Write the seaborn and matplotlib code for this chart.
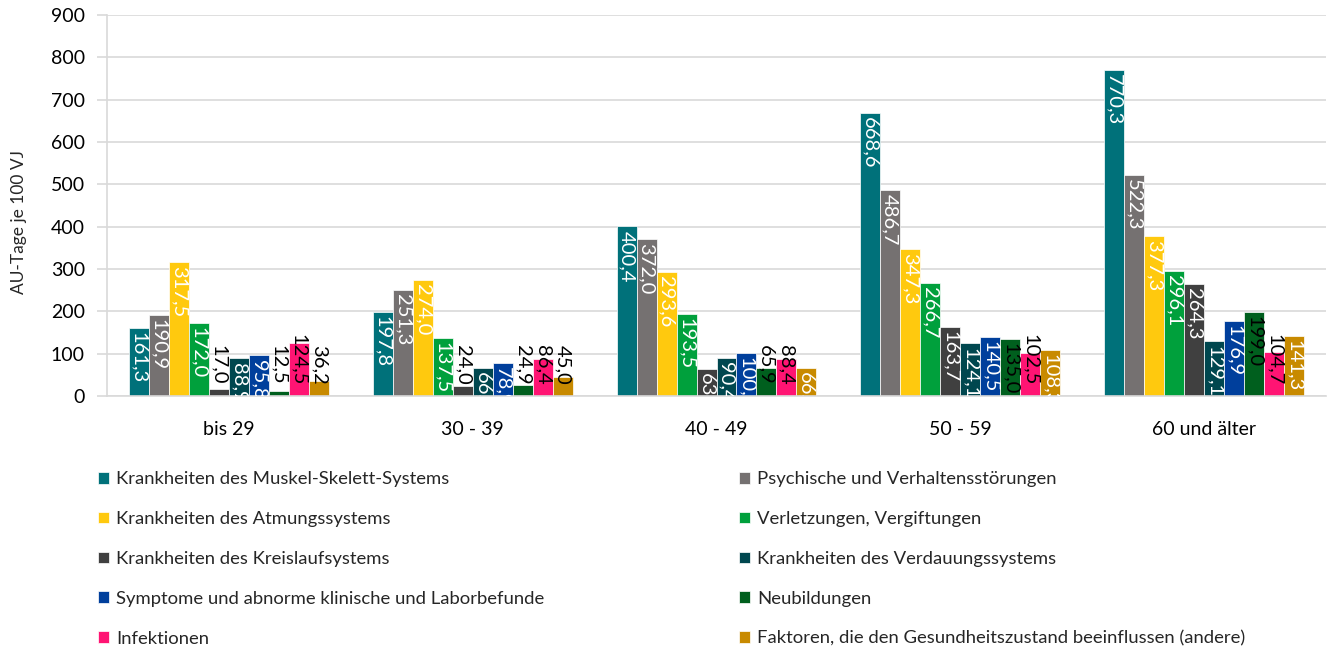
import pandas as pd
import matplotlib
matplotlib.use("Agg")
import matplotlib.pyplot as plt
import seaborn as sns

groups = ["bis 29", "30 - 39", "40 - 49", "50 - 59", "60 und älter"]

diagnosen = [
    "Krankheiten des Muskel-Skelett-Systems",
    "Psychische und Verhaltensstörungen",
    "Krankheiten des Atmungssystems",
    "Verletzungen, Vergiftungen",
    "Krankheiten des Kreislaufsystems",
    "Krankheiten des Verdauungssystems",
    "Symptome und abnorme klinische und Laborbefunde",
    "Neubildungen",
    "Infektionen",
    "Faktoren, die den Gesundheitszustand beeinflussen (andere)",
]

muskel = [161.3, 197.8, 400.4, 668.6, 770.3]
psyche = [190.9, 251.3, 372.0, 486.7, 522.3]
atmung = [317.5, 274.0, 293.6, 347.3, 377.3]
verletzung = [172.0, 137.5, 193.5, 266.7, 296.1]
kreislauf = [17.0, 24.0, 63.7, 163.7, 264.3]
verdauung = [88.9, 66.8, 90.4, 124.1, 129.1]
symptome = [95.8, 78.9, 100.8, 140.5, 176.9]
neubildung = [12.5, 24.9, 65.9, 135.0, 199.0]
infektion = [124.5, 86.4, 88.4, 102.5, 104.7]
faktoren = [36.2, 45.0, 66.9, 108.3, 141.3]

werte = [muskel, psyche, atmung, verletzung, kreislauf,
         verdauung, symptome, neubildung, infektion, faktoren]

farben = ["#00717A", "#757171", "#FFC90E", "#00A03C", "#404040",
          "#00474F", "#003F9C", "#005F1E", "#FF1473", "#C88A00"]
# label colour inside the bar
textfarben = ["white", "white", "white", "white", "white",
              "white", "white", "black", "black", "white"]

rows = []
for d, vals in zip(diagnosen, werte):
    for g, v in zip(groups, vals):
        rows.append({"Altersgruppe": g, "Diagnose": d, "Wert": v})
df = pd.DataFrame(rows)

sns.set_style("white")
plt.rcParams["font.family"] = ["Lato", "DejaVu Sans"]

fig = plt.figure(figsize=(13.28, 6.49), dpi=100)
ax = fig.add_axes([107 / 1328, 1 - 396 / 649, (1326 - 107) / 1328, 381 / 649])

sns.barplot(data=df, x="Altersgruppe", y="Wert", hue="Diagnose",
            palette=farben, saturation=1, width=0.82, gap=0, ax=ax,
            edgecolor="white", linewidth=0.5, errorbar=None)

ax.set_ylim(0, 900)
ax.set_xlim(-0.5, len(groups) - 0.5)
ax.set_yticks(range(0, 1000, 100))
ax.yaxis.grid(True, color="#D9D9D9", linewidth=1.2)
ax.set_axisbelow(True)
for s in ["top", "right"]:
    ax.spines[s].set_visible(False)
ax.spines["left"].set_color("#D9D9D9")
ax.spines["bottom"].set_color("#D9D9D9")
ax.spines["left"].set_linewidth(1.2)
ax.spines["bottom"].set_linewidth(1.2)

ax.set_xticks([i - 0.5 for i in range(len(groups) + 1)], minor=False)
ax.set_xticklabels([])
ax.set_xticks(range(len(groups)), minor=True)
ax.set_xticklabels(groups, minor=True)
ax.tick_params(axis="x", which="major", length=6, color="#D9D9D9", width=1.2, direction="out")
ax.tick_params(axis="x", which="minor", length=0, pad=18, labelsize=14, colors="#000000")
ax.tick_params(axis="y", length=7, color="#D9D9D9", width=1.2, pad=9, labelsize=14,
               labelcolor="black", left=True)
ax.set_xlabel("")
ax.set_ylabel("AU-Tage je 100 VJ", fontsize=12.5)
ax.yaxis.set_label_coords(-80 / 1219, (396 - 222) / 381)

ax.get_legend().remove()

fig.canvas.draw()
renderer = fig.canvas.get_renderer()
px_per_unit = ax.transData.transform((0, 1))[1] - ax.transData.transform((0, 0))[1]

for cont, tc, vals in zip(ax.containers, textfarben, werte):
    for bar, v in zip(cont, vals):
        x = bar.get_x() + bar.get_width() / 2
        label = f"{v:.1f}".replace(".", ",")
        t = ax.annotate(label, (x, v), xytext=(0, -3), textcoords="offset points",
                        rotation=-90, ha="center", va="top", color=tc, fontsize=14.5)
        length = t.get_window_extent(renderer).height
        if length + 5 <= v * px_per_unit:
            continue
        if tc == "white" and v >= 50:
            # too long for the bar: cut it off at the bar like the original
            t.set_clip_path(bar)
        else:
            t.remove()
            ax.annotate(label, (x, 0), xytext=(0, 8), textcoords="offset points",
                        rotation=-90, ha="center", va="bottom", color="black", fontsize=14.5)

handles, labels = ax.get_legend_handles_labels()
if not handles:
    from matplotlib.patches import Patch
    handles = [Patch(facecolor=c) for c in farben]
    labels = diagnosen
opts = dict(frameon=False, fontsize=13.3, handlelength=0.6, handleheight=0.6,
            handletextpad=0.35, labelspacing=1.29, borderpad=0, loc="upper left")
fig.legend(handles[0::2], labels[0::2], bbox_to_anchor=(89 / 1328, 1 - 462 / 649), **opts)
fig.legend(handles[1::2], labels[1::2], bbox_to_anchor=(730 / 1328, 1 - 462 / 649), **opts)

fig.savefig("out.png", dpi=100)
